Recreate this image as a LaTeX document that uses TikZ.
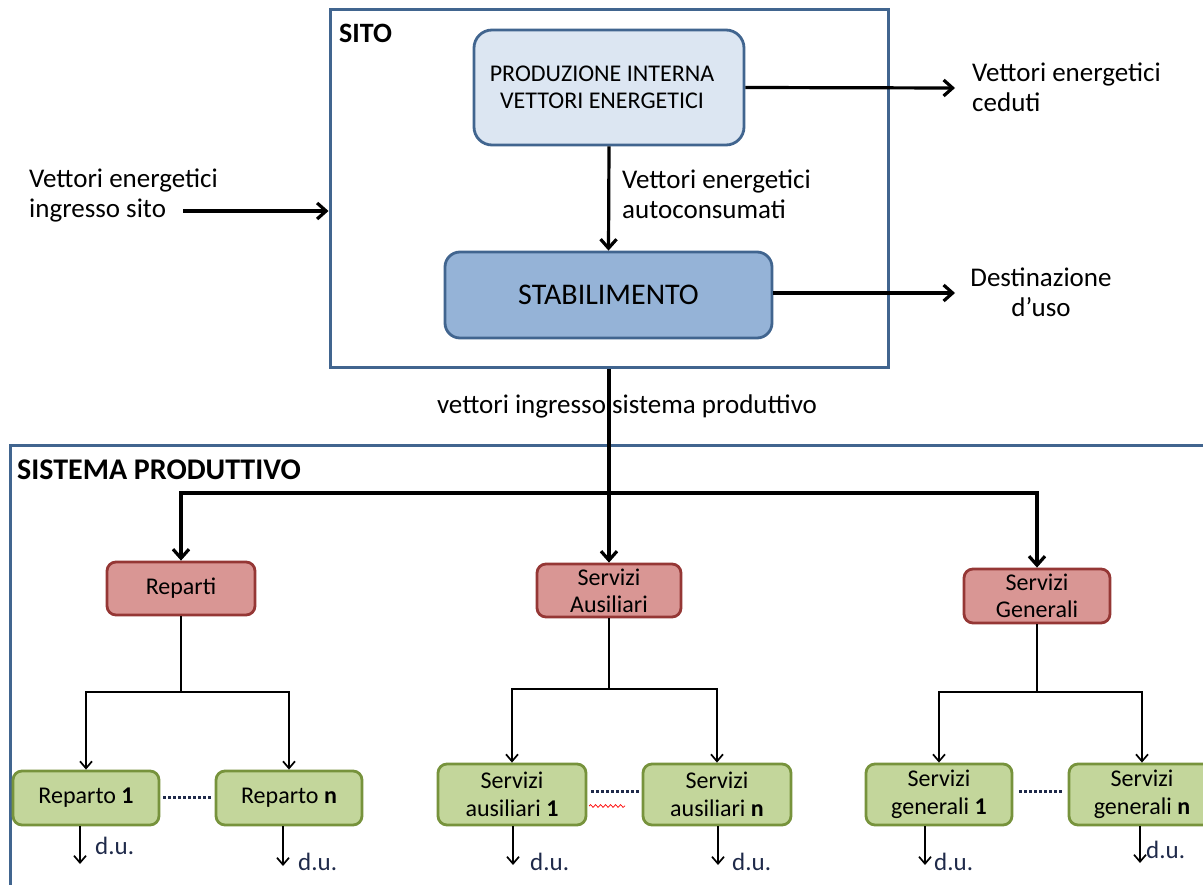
\documentclass[tikz,border=0pt]{standalone}
\usepackage{fontspec}
\setmainfont{Carlito}
\usetikzlibrary{arrows.meta,decorations.pathmorphing}
\definecolor{frameblue}{HTML}{41658F}
\definecolor{prodfill}{HTML}{DCE6F2}
\definecolor{stabfill}{HTML}{95B3D7}
\definecolor{redfill}{HTML}{D99694}
\definecolor{redline}{HTML}{953735}
\definecolor{greenfill}{HTML}{C3D69B}
\definecolor{greenline}{HTML}{77933C}
\definecolor{dunavy}{HTML}{1F2A4A}
\tikzset{
  frame/.style={draw=frameblue, line width=3},
  bluebox/.style={draw=frameblue, line width=2.8, rounded corners=18, align=center, inner sep=0},
  redbox/.style={draw=redline, fill=redfill, line width=2.8, rounded corners=9, align=center, inner sep=0,
     font=\fontsize{24}{27}\selectfont},
  greenbox/.style={draw=greenline, fill=greenfill, line width=2.8, rounded corners=9, align=center, inner sep=0,
     font=\fontsize{24}{28}\selectfont},
  bigarrow/.style={line width=3.2, -{Straight Barb[length=9,width=16,line width=3.2]}},
  smallarrow/.style={line width=1.7, -{Straight Barb[length=7,width=12,line width=1.7]}},
  smallline/.style={line width=1.7},
  lbl/.style={font=\fontsize{27}{30}\selectfont, align=left, inner sep=0},
  du/.style={font=\fontsize{25}{28}\selectfont, text=dunavy, inner sep=0, anchor=west},
  dots/.style={line width=3, dunavy, dash pattern=on 2.4 off 2.6},
}
\begin{document}
\begin{tikzpicture}[x=1pt,y=-1pt]
\useasboundingbox (0,0) rectangle (1203,885);
\clip (0,0) rectangle (1203,885);
\fill[white] (0,0) rectangle (1203,885);

% SITO frame
\node[frame, minimum width=558, minimum height=358, inner sep=0] (sito) at (609,189) {};
\node[font=\fontsize{28}{30}\selectfont\bfseries, anchor=west, inner sep=0] (sitolbl) at (339,33) {SITO};

\node[bluebox, fill=prodfill, minimum width=270, minimum height=115,
      font=\fontsize{24}{27}\selectfont] (prod) at (609,87.5)
      {PRODUZIONE INTERNA\hspace*{14pt}\\VETTORI ENERGETICI\hspace*{14pt}};
\node[bluebox, fill=stabfill, rounded corners=15, minimum width=327, minimum height=86,
      font=\fontsize{30}{32}\selectfont] (stab) at (608.5,295) {STABILIMENTO};

% right outputs
\coordinate (cedend) at (955,88);
\draw[bigarrow] (prod.east) -- (cedend);
\node[lbl, anchor=west] (ceduti) at (972,87) {Vettori energetici\\ceduti};

\coordinate (destend) at (955,293);
\draw[bigarrow] (stab.east |- destend) -- (destend);
\node[lbl, align=center] (dest) at (1041,292) {Destinazione\\d’uso};

% internal arrow
\draw[bigarrow] (prod.south) -- (stab.north);
\node[lbl, anchor=west] (auto) at (622,194) {Vettori energetici\\autoconsumati};

% input
\node[lbl, anchor=west] (ingr) at (29,195) {Vettori energetici\\ingresso sito};
\coordinate (instart) at (183,211);
\draw[bigarrow] (instart) -- (sito.west |- instart);

% SISTEMA PRODUTTIVO frame
\draw[frame] (1220,445) -- (10,445) -- (10,900);
\node[font=\fontsize{30}{32}\selectfont\bfseries, anchor=west, inner sep=0] (sislbl) at (17,470) {SISTEMA PRODUTTIVO};

% red boxes
\node[redbox, minimum width=148, minimum height=53] (rep) at (181,588.5) {Reparti};
\node[redbox, minimum width=144, minimum height=53] (aus) at (609,590.5) {Servizi\\Ausiliari};
\node[redbox, minimum width=146, minimum height=54] (gen) at (1037,596) {Servizi\\Generali};

% distribution
\coordinate (j) at (609,493);
\draw[bigarrow] (sito.south) -- (aus.north);
\draw[bigarrow] (j) -| (rep.north);
\draw[bigarrow] (j) -| (gen.north);
\node[font=\fontsize{27}{30}\selectfont, inner sep=0] (vis) at (627,406) {vettori ingresso sistema produttivo};

% green boxes
\node[greenbox, minimum width=146, minimum height=54] (r1) at (86,798) {Reparto \textbf{1}};
\node[greenbox, minimum width=146, minimum height=54] (rn) at (289,798) {Reparto \textbf{n}};
\node[greenbox, minimum width=148, minimum height=61] (a1) at (512,794.5) {Servizi\\ausiliari \textbf{1}};
\node[greenbox, minimum width=148, minimum height=61] (an) at (717,794.5) {Servizi\\ausiliari \textbf{n}};
\node[greenbox, minimum width=146, minimum height=61] (g1) at (939,794.5) {Servizi\\generali \textbf{1}};
\node[greenbox, minimum width=146, minimum height=61] (gn) at (1142,794.5) {Servizi\\generali \textbf{n}};

% branches
\coordinate (rb) at (181,692);
\draw[smallline] (rep.south) -- (rb);
\draw[smallarrow] (rb) -| (r1.north);
\draw[smallarrow] (rb) -| (rn.north);
\coordinate (ab) at (609,689);
\draw[smallline] (aus.south) -- (ab);
\draw[smallarrow] (ab) -| (a1.north);
\draw[smallarrow] (ab) -| (an.north);
\coordinate (gb) at (1037,692);
\draw[smallline] (gen.south) -- (gb);
\draw[smallarrow] (gb) -| (g1.north);
\draw[smallarrow] (gb) -| (gn.north);

% dotted links
\draw[dots] ([xshift=3,yshift=1]r1.east) -- ([xshift=-4,yshift=1]rn.west);
\draw[dots] ([xshift=4,yshift=3]a1.east) -- ([xshift=-2,yshift=3]an.west);
\draw[red, line width=0.7, decorate, decoration={snake, amplitude=1.4, segment length=5}] (589,806) -- (625,806);
\draw[dots] ([xshift=6,yshift=3]g1.east) -- ([xshift=-4,yshift=3]gn.west);

% d.u. outputs
\coordinate (d1) at (80,864);
\draw[smallarrow] (r1.south -| d1) -- (d1);
\node[du] (du1) at (95,846) {d.u.};
\coordinate (d2) at (283,866);
\draw[smallarrow] (rn.south -| d2) -- (d2);
\node[du] (du2) at (298,862) {d.u.};
\coordinate (d3) at (513,865);
\draw[smallarrow] (a1.south -| d3) -- (d3);
\node[du] (du3) at (530,862) {d.u.};
\coordinate (d4) at (718,865);
\draw[smallarrow] (an.south -| d4) -- (d4);
\node[du] (du4) at (732,862) {d.u.};
\coordinate (d5) at (925,865);
\draw[smallarrow] (g1.south -| d5) -- (d5);
\node[du] (du5) at (934,862) {d.u.};
\coordinate (d6) at (1140,863);
\draw[smallarrow] (gn.south -| d6) -- (d6);
\node[du] (du6) at (1146,850) {d.u.};
\end{tikzpicture}
\end{document}
